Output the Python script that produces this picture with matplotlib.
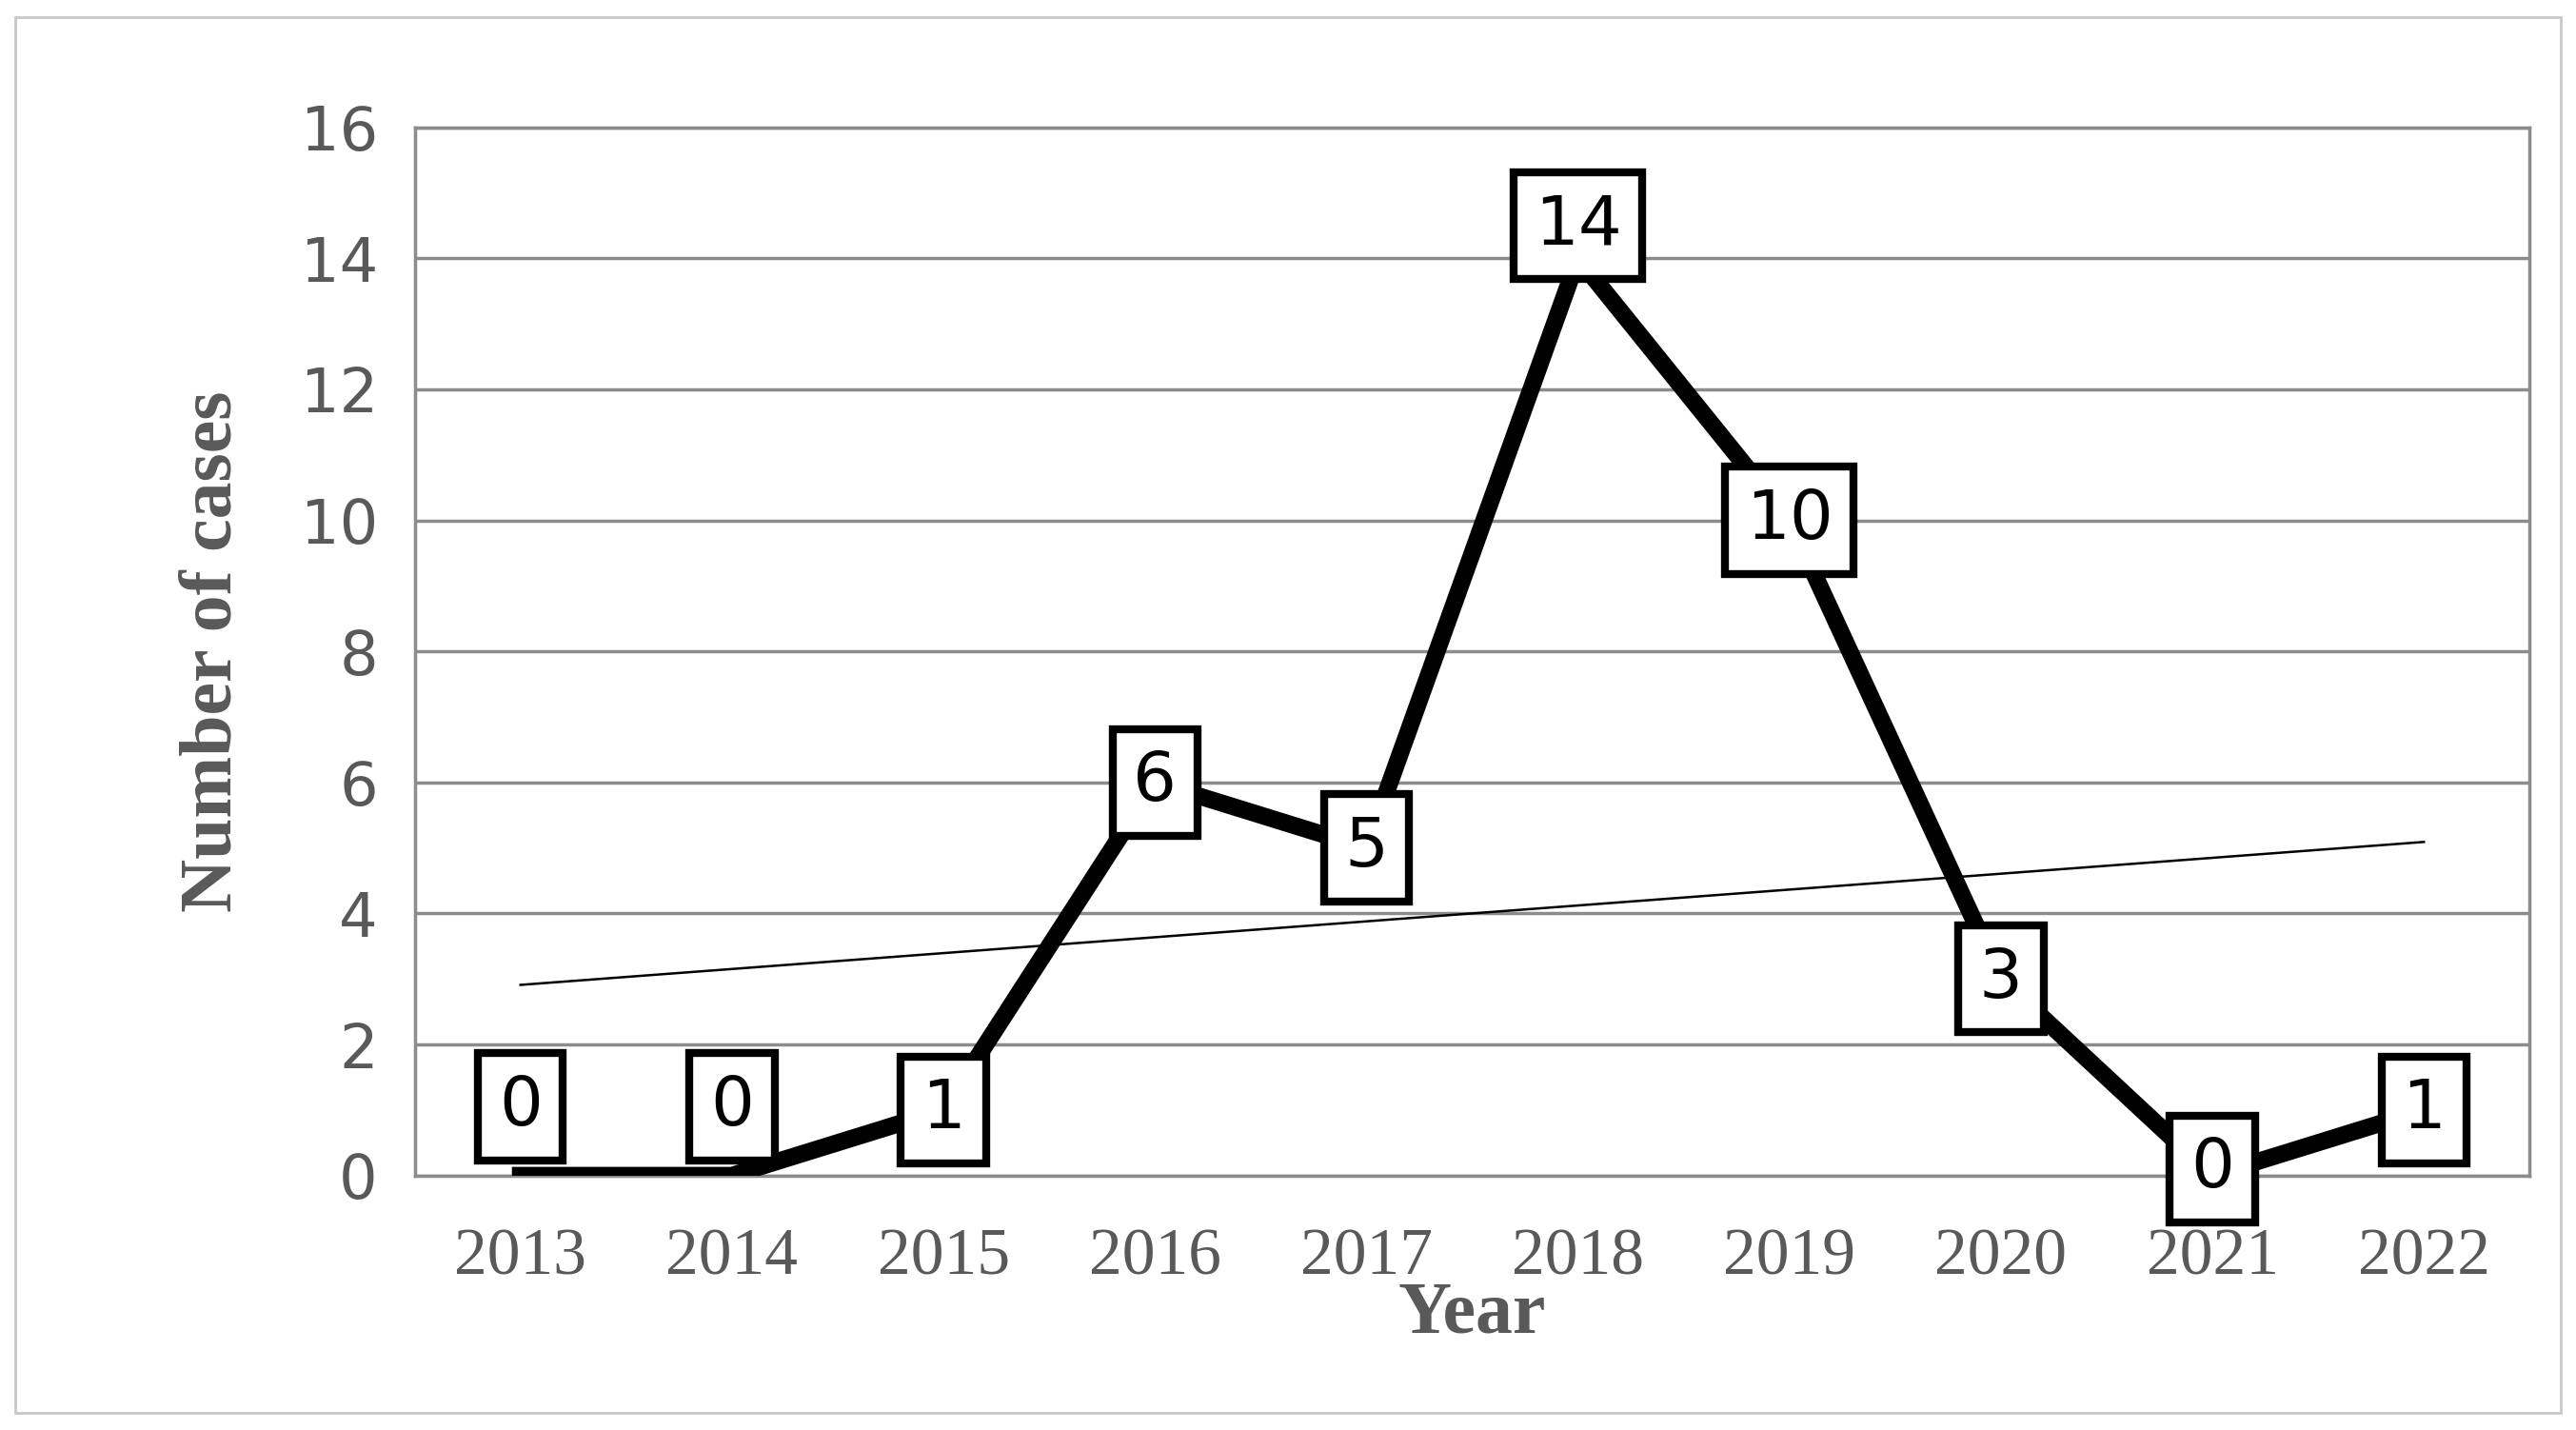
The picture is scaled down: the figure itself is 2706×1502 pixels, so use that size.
import numpy as np
import matplotlib
matplotlib.use("Agg")
import matplotlib.pyplot as plt
from matplotlib.patches import Rectangle

# data
years = ["2013", "2014", "2015", "2016", "2017", "2018", "2019", "2020", "2021", "2022"]
cases = [0, 0, 1, 6, 5, 14, 10, 3, 0, 1]
label_y = [1.05, 1.05, 1, 6, 5, 14.5, 10, 3, 0.1, 1]

fig = plt.figure(figsize=(27.06, 15.02), dpi=100)
fig.add_artist(Rectangle((0.006, 0.012), 0.988, 0.976, transform=fig.transFigure,
                         fill=False, edgecolor="#c8c8c8", linewidth=2))
ax = fig.add_axes([0.161, 0.178, 0.821, 0.733])

x = np.arange(len(years))
ax.plot(x, cases, color="black", linewidth=13, solid_joinstyle="miter", zorder=3)

# linear trend line
m, b = np.polyfit(x, cases, 1)
ax.plot(x, m * x + b, color="black", linewidth=1.8, zorder=2)

for xi, yi, v in zip(x, label_y, cases):
    ax.text(xi, yi, str(v), ha="center", va="center", fontsize=52, zorder=5,
            bbox=dict(boxstyle="square,pad=0.3", facecolor="white",
                      edgecolor="black", linewidth=6))

ax.set_xlim(-0.5, 9.5)
ax.set_ylim(0, 16)
ax.set_yticks(range(0, 17, 2))
ax.set_xticks(x)
ax.set_xticklabels(years, fontfamily="Liberation Serif", fontsize=50, color="#595959")
ax.tick_params(axis="y", labelsize=46, labelcolor="#595959", length=0, pad=28)
ax.tick_params(axis="x", length=0, pad=40)
ax.grid(axis="y", color="#8c8c8c", linewidth=2.5)
ax.set_axisbelow(True)
for s in ax.spines.values():
    s.set_color("#8c8c8c")
    s.set_linewidth(2.5)

ax.set_xlabel("Year", fontfamily="Liberation Serif", fontweight="bold",
              fontsize=56, color="#595959", labelpad=-6)
ax.set_ylabel("Number of cases", fontfamily="Liberation Serif", fontweight="bold",
              fontsize=56, color="#595959", labelpad=40)

fig.savefig("out.png", dpi=100)
